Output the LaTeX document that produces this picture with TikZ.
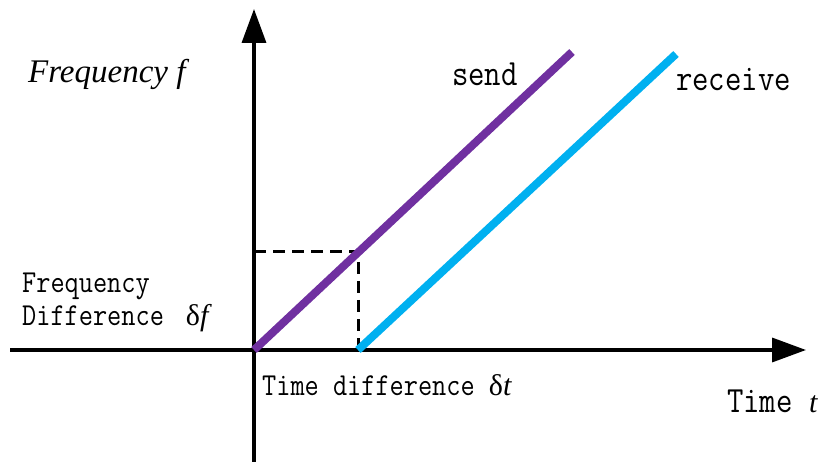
\documentclass[tikz,border=0pt]{standalone}
\usepackage{fontspec}
\setmainfont{Liberation Serif}
\setmonofont[FakeStretch=0.86]{Latin Modern Mono}
\usetikzlibrary{arrows.meta}
\definecolor{sendcol}{HTML}{7030A0}
\definecolor{recvcol}{HTML}{00B0F0}
\newcommand\dlt{{\rmfamily\fontsize{30}{30}\selectfont δ}}
\newcommand\itv[1]{{\rmfamily\fontsize{30}{30}\selectfont\itshape #1}}
\tikzset{
  axis/.style={line width=3.5pt,-{Triangle[length=34pt,width=24pt]}},
  ramp/.style={line width=8pt},
  guide/.style={line width=3pt,dash pattern=on 12pt off 7pt},
  lbl/.style={inner sep=0pt,anchor=base west},
  mono/.style={lbl,font=\fontsize{32}{32}\ttfamily},
  monob/.style={lbl,font=\fontsize{37}{37}\ttfamily},
}
\begin{document}
\begin{tikzpicture}[x=1pt,y=-1pt]
\useasboundingbox (0,0) rectangle (827,462);
\coordinate (ybot) at (254,462);
\coordinate (ytop) at (254,9);
\coordinate (xl) at (10,350);
\coordinate (xr) at (806,350);
\coordinate (s0) at (254,350);
\coordinate (s1) at (572,52);
\coordinate (r0) at (358,350);
\coordinate (r1) at (676,54);
\coordinate (p) at (358,252);
\coordinate (py) at (254,252);
\draw[axis] (ybot) -- (ytop);
\draw[axis] (xl) -- (xr);
\draw[guide] (py) -- (p) -- (r0);
\draw[ramp,sendcol] (s0) -- (s1);
\draw[ramp,recvcol] (r0) -- (r1);
\node[lbl,font=\fontsize{33}{33}\selectfont\itshape] (fy) at (28,83) {Frequency f};
\node[monob] (send) at (452,86) {send};
\node[monob] (recv) at (676,91) {receive};
\node[mono] (fd1) at (22,292) {Frequency};
\node[mono] (fd2) at (22,325) {Difference\hspace{22pt}\dlt\itv{f}};
\node[mono] (td) at (262,395) {Time difference \dlt\itv{t}};
\node[monob] (tt) at (727,412) {Time \itv{t}};
\end{tikzpicture}
\end{document}
